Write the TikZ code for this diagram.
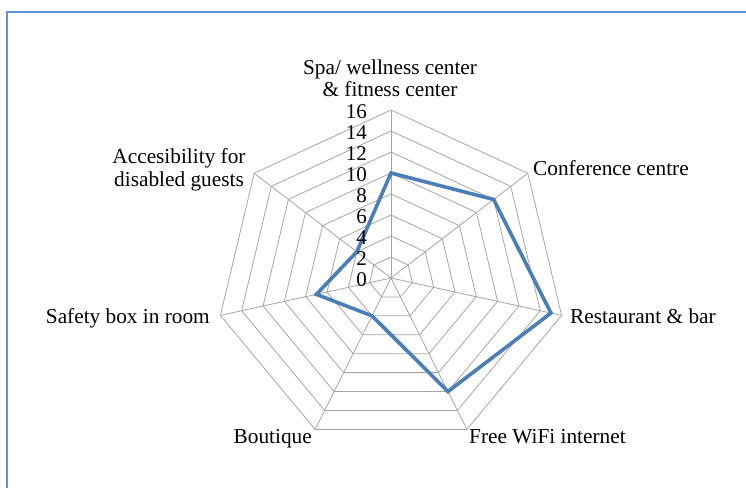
\documentclass[tikz,border=0pt]{standalone}
\usepackage{fontspec}
\setmainfont{Liberation Serif}
\definecolor{framecol}{RGB}{95,143,215}
\definecolor{seriesblue}{RGB}{74,126,187}
\definecolor{gridgray}{RGB}{165,165,165}
\begin{document}
\begin{tikzpicture}[x=1pt,y=-1pt,
  gridline/.style={draw=gridgray, line width=0.8pt},
  series/.style={draw=seriesblue, line width=3.6pt, line join=miter},
  lbl/.style={font=\fontsize{21.3}{22.5}\selectfont, inner sep=0pt, text=black},
  ticklbl/.style={font=\fontsize{21}{22}\selectfont, inner sep=0pt, anchor=east, text=black}]
\useasboundingbox (0,0) rectangle (746,487);
% frame
\draw[framecol, line width=1.8pt] (7,488) -- (7,12) -- (747,12);
% centre
\coordinate (C) at (391,278);
% ring vertices
\foreach \i in {1,...,8}{
  \foreach \k in {0,...,6}{
    \coordinate (r\i-\k) at ({391+175*\i/8*cos(90-\k*360/7)}, {278-168*\i/8*sin(90-\k*360/7)});
  }
}
% rings
\foreach \i in {1,...,8}{
  \draw[gridline] (r\i-0) -- (r\i-1) -- (r\i-2) -- (r\i-3) -- (r\i-4) -- (r\i-5) -- (r\i-6) -- cycle;
}
% spokes
\foreach \k in {0,...,6}{
  \draw[gridline] (C) -- (r8-\k);
}
% data points
\foreach \v/\k in {10/0,12/1,15/2,12/3,4/4,7/5,4/6}{
  \coordinate (d\k) at ({391+175*\v/16*cos(90-\k*360/7)}, {278-168*\v/16*sin(90-\k*360/7)});
}
\draw[series] (d0) -- (d1) -- (d2) -- (d3) -- (d4) -- (d5) -- (d6) -- cycle;
% tick labels
\foreach \v in {0,2,...,16}{
  \node[ticklbl] (t\v) at (367, {280-10.5*\v}) {\v};
}
% axis labels
\node[lbl, align=center] (spa) at (390,78) {Spa/ wellness center\\\& fitness center};
\node[lbl, anchor=base west] (conf) at (533,175) {Conference centre};
\node[lbl, anchor=base west] (rest) at (570,323) {Restaurant \& bar};
\node[lbl, anchor=base west] (wifi) at (469,443) {Free WiFi internet};
\node[lbl, anchor=base east] (bout) at (312,443) {Boutique};
\node[lbl, anchor=base east] (safe) at (210,323) {Safety box in room};
\node[lbl, align=center] (acc) at (179,170) {Accesibility for\\disabled guests};
\end{tikzpicture}
\end{document}
